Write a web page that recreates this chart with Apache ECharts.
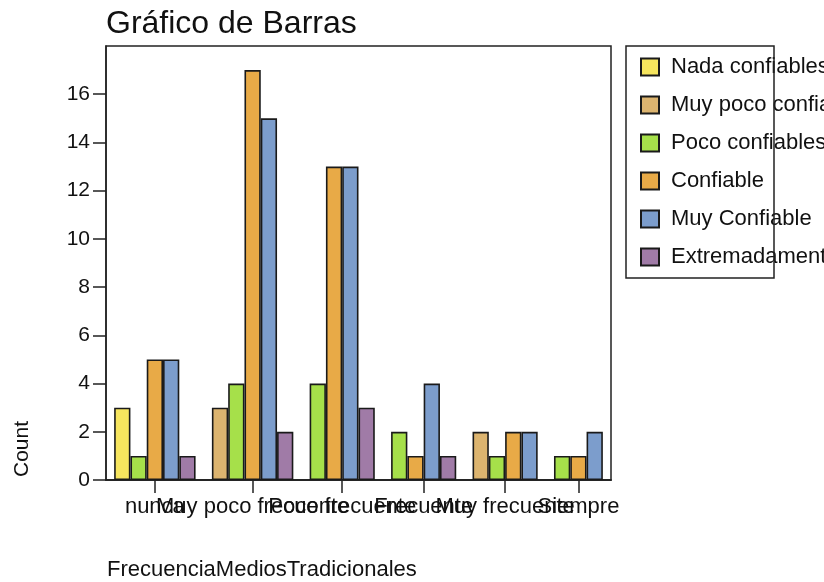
<!DOCTYPE html>
<html>
<head>
<meta charset="utf-8">
<script src="https://cdn.jsdelivr.net/npm/echarts@6/dist/echarts.min.js"></script>
<style>
  html, body { margin: 0; padding: 0; background: #fff; }
  #graph { width: 824px; height: 582px; }
</style>
</head>
<body>
<div id="graph"></div>
<script>
var categories = ['nunca', 'Muy poco frecuente', 'Poco frecuente', 'Frecuente', 'Muy frecuente', 'Siempre'];
var seriesNames = ['Nada confiables', 'Muy poco confiables', 'Poco confiables', 'Confiable', 'Muy Confiable', 'Extremadamente confiables'];
var colors = ['#f6e55e', '#dcb46f', '#a6e04a', '#e8aa47', '#7c9dcc', '#a07ba7'];

// une liste par niveau de confiance, une valeur par catégorie
var nada = [3, 0, 0, 0, 0, 0];
var muyPoco = [0, 3, 0, 0, 2, 0];
var poco = [1, 4, 4, 2, 1, 1];
var confiable = [5, 17, 13, 1, 2, 1];
var muyConfiable = [5, 15, 13, 4, 2, 2];
var extrema = [1, 2, 3, 1, 0, 0];
var yTicks = [0, 2, 4, 6, 8, 10, 12, 14, 16];

var values = [nada, muyPoco, poco, confiable, muyConfiable, extrema];

// les barres nulles ne sont pas dessinées : on tasse chaque groupe
var seriesData = values.map(function () { return []; });
var centers = [];
var cursor = 0.5;
categories.forEach(function (cat, c) {
    var start = cursor;
    values.forEach(function (list, s) {
        if (list[c] > 0) {
            seriesData[s].push([cursor + 0.5, list[c]]);
            cursor += 1;
        }
    });
    centers.push((start + cursor) / 2);
    cursor += 1;
});
var total = cursor - 0.5;

// les étiquettes se chevauchent : on les répartit sur deux axes superposés
var centersA = centers.filter(function (v, i) { return i % 2 == 0; });
var centersB = centers.filter(function (v, i) { return i % 2 == 1; });

var gridLeft = 106, gridRight = 213;
var unit = (824 - gridLeft - gridRight) / total;

var font = 'Liberation Sans';
var axisColor = '#222';

function categoryName(v) {
    for (var i = 0; i < centers.length; i++) {
        if (Math.abs(centers[i] - v) < 1e-6) return categories[i];
    }
    return '';
}

function makeXAxis(gridIndex, ticks) {
    return {
        gridIndex: gridIndex,
        type: 'value',
        position: 'bottom',
        min: 0,
        max: total,
        splitLine: { show: false },
        axisLine: { show: true, lineStyle: { color: axisColor, width: 1.5 } },
        axisTick: { show: true, length: 13, customValues: ticks, lineStyle: { color: axisColor, width: 1.5 } },
        axisLabel: {
            customValues: ticks,
            showMinLabel: true,
            showMaxLabel: true,
            hideOverlap: false,
            margin: 16,
            fontFamily: font,
            fontSize: 22,
            color: '#111',
            formatter: categoryName
        }
    };
}

var chart = echarts.init(document.getElementById('graph'));

var option = {
    animation: false,
    backgroundColor: '#fff',
    title: {
        text: 'Gráfico de Barras',
        left: 106,
        top: 8,
        padding: 0,
        textStyle: { fontFamily: font, fontSize: 32, fontWeight: 'normal', color: '#111' }
    },
    legend: {
        orient: 'vertical',
        left: 640,
        top: 56,
        padding: 0,
        itemWidth: 18,
        itemHeight: 17,
        itemGap: 16,
        icon: 'rect',
        data: seriesNames,
        textStyle: { fontFamily: font, fontSize: 22, color: '#111', padding: [0, 0, 0, 7] }
    },
    grid: [
        {
            left: gridLeft,
            right: gridRight,
            top: 46,
            bottom: 102,
            show: true,
            borderColor: axisColor,
            borderWidth: 1.5
        },
        {
            left: gridLeft,
            right: gridRight,
            top: 46,
            bottom: 102,
            show: false
        }
    ],
    xAxis: [makeXAxis(0, centersA), makeXAxis(1, centersB)],
    yAxis: [
        {
            gridIndex: 0,
            type: 'value',
            min: 0,
            max: 18,
            interval: 2,
            splitLine: { show: false },
            axisLine: { show: true, lineStyle: { color: axisColor, width: 1.5 } },
            axisTick: { show: true, length: 13, customValues: yTicks, lineStyle: { color: axisColor, width: 1.5 } },
            axisLabel: { customValues: yTicks, showMinLabel: true, margin: 16, fontFamily: font, fontSize: 21, color: '#111' }
        },
        {
            gridIndex: 1,
            type: 'value',
            min: 0,
            max: 18,
            show: false
        }
    ],
    series: seriesNames.map(function (name, s) {
        return {
            name: name,
            type: 'bar',
            xAxisIndex: 0,
            yAxisIndex: 0,
            data: seriesData[s],
            barWidth: unit,
            barGap: '-100%',
            itemStyle: { color: colors[s], borderColor: '#1a1a1a', borderWidth: 1.6 }
        };
    }),
    graphic: [
        {
            type: 'rect',
            z: 100,
            shape: { x: 626, y: 46, width: 148, height: 232 },
            style: { fill: 'none', stroke: axisColor, lineWidth: 1.5 }
        },
        {
            type: 'text',
            x: 22,
            y: 449,
            rotation: Math.PI / 2,
            style: { text: 'Count', fontFamily: font, fontSize: 21, fill: '#111', align: 'center', verticalAlign: 'middle' }
        },
        {
            type: 'text',
            x: 107,
            y: 570,
            style: { text: 'FrecuenciaMediosTradicionales', fontFamily: font, fontSize: 22, fill: '#111', align: 'left', verticalAlign: 'middle' }
        }
    ]
};

chart.setOption(option);
</script>
</body>
</html>
